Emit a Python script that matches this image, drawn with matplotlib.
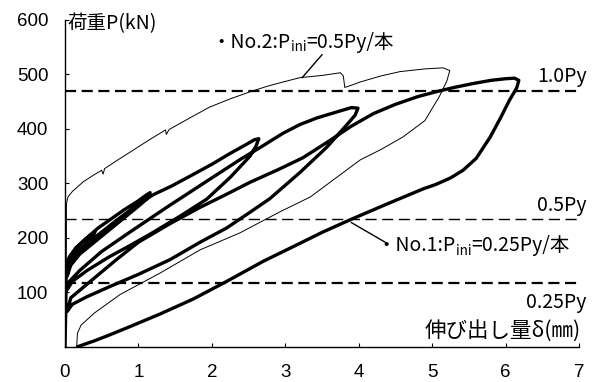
import matplotlib
matplotlib.use("Agg")
import matplotlib.pyplot as plt

plt.rcParams['font.family'] = ['Noto Sans CJK JP', 'DejaVu Sans']

# No.1 (P_ini = 0.25Py): cyclic loading, thick line
no1_x = [0.00, 0.01, 0.015, 0.02,
         0.06, 0.15, 0.28, 0.41,
         0.38, 0.28, 0.15, 0.05, 0.02,
         0.05, 0.15, 0.30, 0.45, 0.60, 0.80, 1.00, 1.10, 1.16,
         1.12, 1.00, 0.80, 0.60, 0.40, 0.20, 0.08, 0.03,
         0.06, 0.20, 0.40, 0.70, 1.00, 1.20, 1.45, 1.70, 2.00, 2.25, 2.45, 2.58, 2.64,
         2.60, 2.52, 2.25, 1.93, 1.57, 1.20, 0.90, 0.60, 0.30, 0.10, 0.03,
         0.06, 0.20, 0.50, 0.90, 1.43, 2.00, 2.40, 2.66, 2.97, 3.20, 3.43, 3.70, 3.90, 3.99,
         3.95, 3.88, 3.57, 3.20, 2.79, 2.52, 2.20, 1.84, 1.43, 1.00, 0.60, 0.30, 0.10, 0.03,
         0.08, 0.30, 0.70, 1.00, 1.43, 1.84, 2.20, 2.52, 2.90, 3.24, 3.60, 3.90, 4.20, 4.50,
         4.80, 5.05, 5.30, 5.55, 5.80, 6.00, 6.12, 6.18,
         6.15, 6.05, 5.93, 5.79, 5.60, 5.42, 5.25, 5.05, 4.88, 4.40, 3.88, 3.50, 3.20, 2.70,
         2.20, 1.75, 1.29, 0.90, 0.61, 0.40, 0.25, 0.17]
no1_p = [0, 60, 120, 150,
         165, 182, 198, 211,
         203, 188, 172, 155, 140,
         160, 180, 200, 218, 232, 251, 268, 278, 283,
         272, 258, 236, 214, 192, 170, 150, 130,
         150, 175, 200, 232, 262, 279, 295, 313, 335, 355, 370, 380, 382,
         368, 350, 311, 271, 240, 210, 187, 165, 140, 120, 105,
         120, 140, 175, 212, 260, 310, 345, 366, 392, 408, 420, 431, 439, 438,
         425, 414, 367, 320, 272, 247, 218, 192, 160, 133, 110, 92, 78, 65,
         90, 115, 160, 192, 226, 256, 280, 302, 325, 347, 378, 405, 428, 445,
         459, 468, 476, 483, 489, 492, 493, 489,
         475, 452, 420, 385, 346, 324, 310, 298, 290, 263, 233, 210, 190, 157,
         120, 88, 60, 38, 22, 11, 4, 0]

# No.2 (P_ini = 0.5Py): monotonic loading then unloading, thin line
no2_x = [0.01, 0.015, 0.02, 0.02, 0.04, 0.10, 0.25, 0.40, 0.50, 0.52, 0.54, 0.72,
         0.93, 1.15, 1.37, 1.38, 1.42, 1.70, 1.97, 2.25, 2.52, 2.75, 2.97, 3.20,
         3.50, 3.75, 3.79, 3.81, 3.90, 4.02, 4.30, 4.56, 4.90, 5.15, 5.24, 5.20,
         5.10, 4.90, 4.60, 4.30, 4.02, 3.75, 3.34, 2.93, 2.38, 1.84, 1.29, 0.75,
         0.40, 0.22, 0.17, 0.16]
no2_p = [0, 100, 200, 262, 275, 285, 303, 316, 324, 317, 327, 343,
         361, 380, 398, 390, 399, 420, 440, 455, 468, 478, 486, 494,
         498, 503, 497, 476, 480, 486, 497, 505, 510, 512, 507, 488,
         460, 415, 385, 362, 343, 316, 275, 248, 209, 178, 135, 96,
         62, 40, 25, 0]

Py = 470
ref_levels = [1.0, 0.5, 0.25]
ref_labels = ['1.0Py', '0.5Py', '0.25Py']
ref_widths = [1.6, 1.0, 1.6]

x_ticks = [0, 1, 2, 3, 4, 5, 6, 7]
y_ticks = [100, 200, 300, 400, 500, 600]

fig = plt.figure(figsize=(6.07, 3.82), dpi=100)
ax = fig.add_axes([0.107, 0.092, 0.847, 0.856])

for lv, lw in zip(ref_levels, ref_widths):
    ax.plot([0, 7], [lv * Py, lv * Py], color='black', lw=lw,
            dashes=(8.0 / lw, 4.0 / lw), clip_on=False)

ax.plot(no2_x, no2_p, color='black', lw=0.7, solid_joinstyle='round')
ax.plot(no1_x, no1_p, color='black', lw=2.4, solid_joinstyle='round',
        solid_capstyle='round')

ax.set_xlim(0, 7)
ax.set_ylim(0, 600)
ax.set_xticks(x_ticks)
ax.set_yticks(y_ticks)
ax.tick_params(direction='in', length=3, width=0.8)
ax.tick_params(axis='x', pad=12)
ax.tick_params(axis='y', pad=12)
for lab in ax.get_xticklabels() + ax.get_yticklabels():
    lab.set_family('Liberation Sans')
    lab.set_fontsize(13.5)
for s in ['top', 'right']:
    ax.spines[s].set_visible(False)
for s in ['left', 'bottom']:
    ax.spines[s].set_linewidth(1.0)

fs = 14
ax.text(0.04, 594, '荷重P(kN)', fontsize=fs, ha='left', va='center')
ax.text(7.02, 9, '伸び出し量δ(㎜)', fontsize=15.5, ha='right', va='bottom')

label_y = [486, 250, 72]
for lab, ly in zip(ref_labels, label_y):
    ax.text(7.1, ly, lab, fontsize=fs, ha='right', va='baseline')


def pini_label(x, y, pre, post):
    t1 = ax.text(x, y, pre, fontsize=fs, ha='left', va='bottom')
    t2 = ax.annotate('ini', xy=(1, -0.08), xycoords=t1, fontsize=fs * 0.7,
                     ha='left', va='bottom')
    ax.annotate(post, xy=(1, 0), xycoords=(t2, t1), fontsize=fs,
                ha='left', va='bottom')


pini_label(2.0, 540, '・No.2:P', '=0.5Py/本')
pini_label(4.24, 166, '・No.1:P', '=0.25Py/本')

# leader lines
ax.plot([3.50, 3.23], [536, 494], color='black', lw=1.0, clip_on=False)
ax.plot([3.90, 4.36], [228, 192], color='black', lw=1.0, clip_on=False)

fig.savefig('out.png', dpi=100)
